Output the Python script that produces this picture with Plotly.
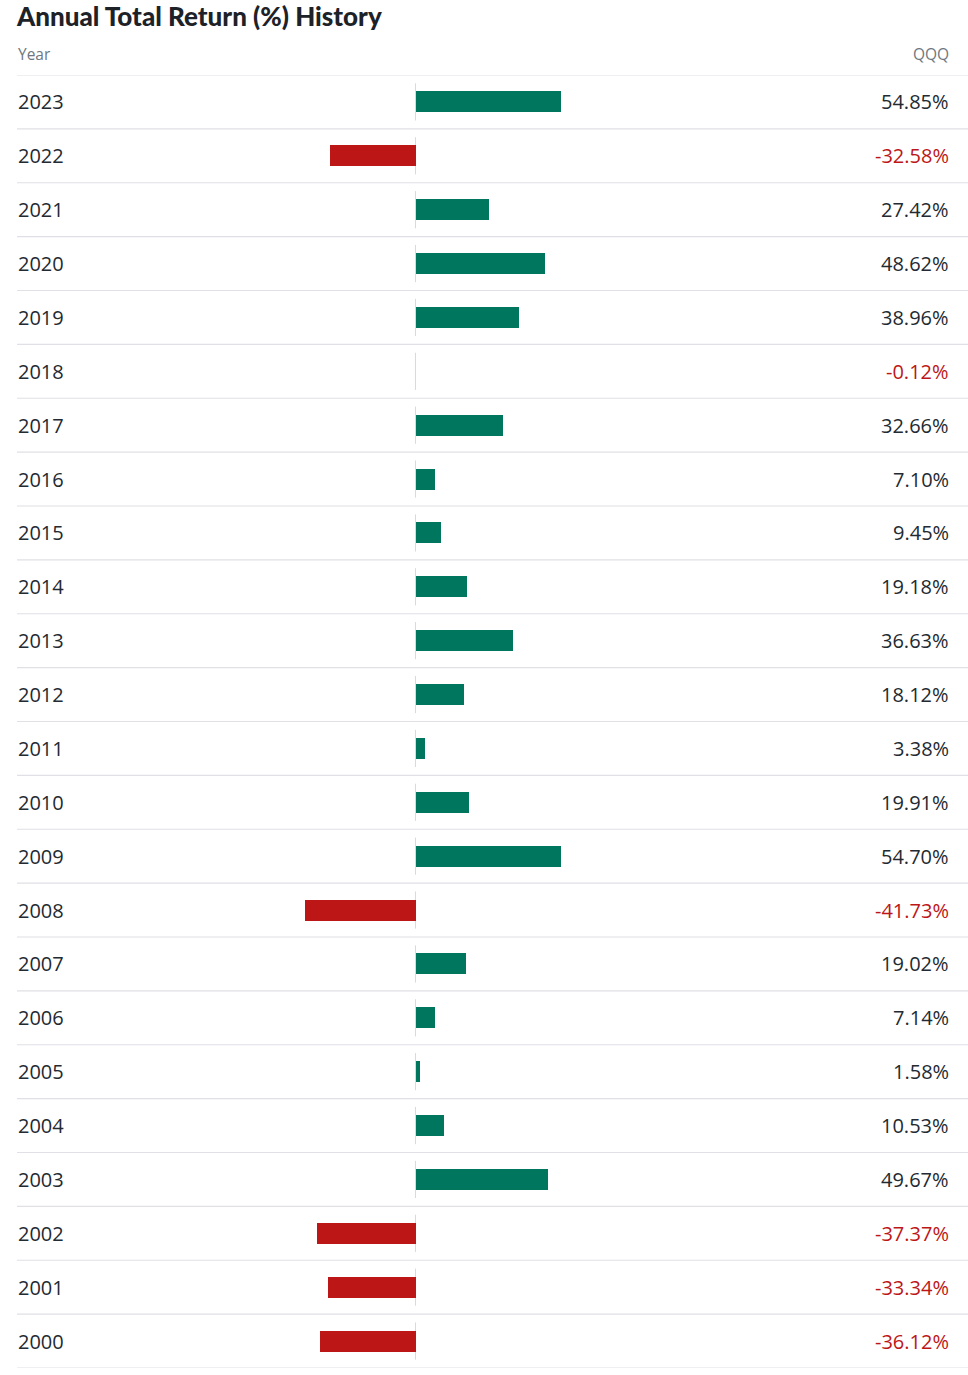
import plotly.graph_objects as go

years = ["2023", "2022", "2021", "2020", "2019", "2018", "2017", "2016", "2015", "2014",
         "2013", "2012", "2011", "2010", "2009", "2008", "2007", "2006", "2005", "2004",
         "2003", "2002", "2001", "2000"]
returns = [54.85, -32.58, 27.42, 48.62, 38.96, -0.12, 32.66, 7.10, 9.45, 19.18,
           36.63, 18.12, 3.38, 19.91, 54.70, -41.73, 19.02, 7.14, 1.58, 10.53,
           49.67, -37.37, -33.34, -36.12]
title_text = "Annual Total Return (%) History"
col_year = "Year"
col_ticker = "QQQ"

GREEN = "#00765f"
RED = "#bd1616"
TEXT = "#232a31"
GRAY = "#6e7780"
LINE = "#e0e0e6"
ZERO = "#d8d8e0"
FONT = "Open Sans"

W, H = 968, 1375
ML, MR, MT = 17, 0, 75
PW = W - ML - MR
PH = 1368 - MT
MB = H - MT - PH
ZERO_PX = 416 - 17
PX_PER_PCT = 2.65
xmin = -ZERO_PX / PX_PER_PCT
xmax = xmin + PW / PX_PER_PCT
RIGHT_X = (951 - 17) / PW

pos = list(range(len(years)))
colors = [GREEN if v >= 0 else RED for v in returns]

fig = go.Figure()
fig.add_trace(go.Bar(
    x=returns, y=pos, orientation="h", width=0.39,
    marker=dict(color=colors, line=dict(width=0)),
    hoverinfo="skip", showlegend=False,
))

shapes = []
for i in range(-1, len(years)):
    shapes.append(dict(type="line", xref="paper", yref="y", x0=0, x1=1,
                       y0=i + 0.5, y1=i + 0.5, line=dict(color=LINE, width=1.2), layer="below"))
for i in pos:
    shapes.append(dict(type="line", xref="x", yref="y", x0=-0.2, x1=-0.2,
                       y0=i - 0.345, y1=i + 0.345, line=dict(color=ZERO, width=1), layer="below"))

annotations = []
for i, (yr, v) in enumerate(zip(years, returns)):
    annotations.append(dict(xref="paper", yref="y", x=-1 / PW, y=i, text=yr, showarrow=False,
                            xanchor="left", yanchor="middle",
                            font=dict(family=FONT, size=20, color=TEXT)))
    annotations.append(dict(xref="paper", yref="y", x=RIGHT_X, y=i,
                            text=f"{v:.2f}%", showarrow=False,
                            xanchor="right", yanchor="middle",
                            font=dict(family=FONT, size=20, color=TEXT if v >= 0 else RED)))

annotations.append(dict(xref="paper", yref="paper", x=-1 / PW, y=1 + 21 / PH, text=col_year,
                        showarrow=False, xanchor="left", yanchor="middle",
                        font=dict(family=FONT, size=15.5, color=GRAY)))
annotations.append(dict(xref="paper", yref="paper", x=RIGHT_X, y=1 + 21 / PH,
                        text=col_ticker, showarrow=False, xanchor="right", yanchor="middle",
                        font=dict(family=FONT, size=15.5, color=GRAY)))
annotations.append(dict(xref="paper", yref="paper", x=-3 / PW, y=1 + 59 / PH,
                        text=title_text, showarrow=False,
                        xanchor="left", yanchor="middle",
                        font=dict(family="Lato", size=26, color="#1d2228", weight=900)))

fig.update_layout(
    width=W, height=H,
    margin=dict(l=ML, r=MR, t=MT, b=MB),
    plot_bgcolor="white", paper_bgcolor="white",
    xaxis=dict(range=[xmin, xmax], visible=False, fixedrange=True),
    yaxis=dict(range=[len(years) - 0.5, -0.5], visible=False, fixedrange=True),
    shapes=shapes, annotations=annotations,
    bargap=0,
)

fig.write_html("out.html", config={"displayModeBar": False, "staticPlot": True},
               post_script="document.body.style.margin='0px';document.body.style.overflow='hidden';")
